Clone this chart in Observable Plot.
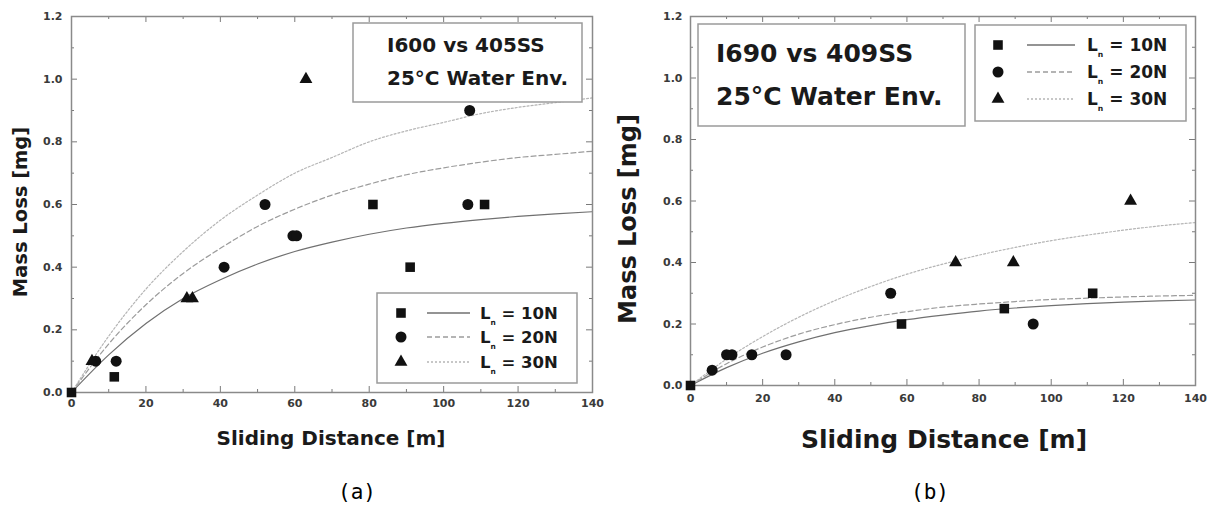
<!DOCTYPE html>
<html><head><meta charset="utf-8">
<script src="https://cdn.jsdelivr.net/npm/d3@7"></script>
<script src="https://cdn.jsdelivr.net/npm/@observablehq/plot@0.6"></script>
<style>
body{margin:0;background:#fff;}
#wrap{position:relative;width:1219px;height:510px;overflow:hidden;font-family:"DejaVu Sans",sans-serif;background:#fff;}
#pa{position:absolute;left:0;top:0;}
#pb{position:absolute;left:610px;top:0;}
#ov{position:absolute;left:0;top:0;}
</style></head><body>
<div id="wrap"><div id="pa"></div><div id="pb"></div><svg id="ov" width="1219" height="510"></svg></div>
<script>
// ---- ticks ----
const xTicks = [0, 20, 40, 60, 80, 100, 120, 140];
const xMinor = [10, 30, 50, 70, 90, 110, 130];
const yTicks = [0, 0.2, 0.4, 0.6, 0.8, 1.0, 1.2];
const yMinor = [0.1, 0.3, 0.5, 0.7, 0.9, 1.1];
const loads = ["Lₙ = 10N", "Lₙ = 20N", "Lₙ = 30N"];

// ---- panel (a): I600 vs 405SS ----
const aSquareX = [0, 11.5, 81, 91, 111];
const aSquareY = [0, 0.05, 0.6, 0.4, 0.6];
const aCircleX = [6.5, 12, 41, 52, 59.5, 60.5, 106.5, 107];
const aCircleY = [0.1, 0.1, 0.4, 0.6, 0.5, 0.5, 0.6, 0.9];
const aTriX = [5.5, 31, 32.5, 63];
const aTriY = [0.1, 0.3, 0.3, 1.0];
const fitX = [0, 10, 20, 30, 40, 50, 60, 70, 80, 90, 100, 110, 120, 130, 140];
const aFit10 = [0, 0.12, 0.22, 0.30, 0.36, 0.41, 0.45, 0.48, 0.505, 0.525, 0.54, 0.552, 0.562, 0.57, 0.577];
const aFit20 = [0, 0.155, 0.28, 0.38, 0.46, 0.53, 0.585, 0.63, 0.665, 0.695, 0.717, 0.735, 0.75, 0.76, 0.77];
const aFit30 = [0, 0.18, 0.33, 0.45, 0.55, 0.63, 0.70, 0.75, 0.80, 0.835, 0.862, 0.89, 0.91, 0.925, 0.94];

// ---- panel (b): I690 vs 409SS ----
const bSquareX = [0, 58.5, 87, 111.5];
const bSquareY = [0, 0.2, 0.25, 0.3];
const bCircleX = [6, 10, 11.5, 17, 26.5, 55.5, 95];
const bCircleY = [0.05, 0.1, 0.1, 0.1, 0.1, 0.3, 0.2];
const bTriX = [73.5, 89.5, 122];
const bTriY = [0.4, 0.4, 0.6];
const bFit10 = [0, 0.058, 0.105, 0.142, 0.172, 0.195, 0.214, 0.229, 0.242, 0.252, 0.26, 0.266, 0.271, 0.275, 0.278];
const bFit20 = [0, 0.071, 0.125, 0.167, 0.198, 0.222, 0.24, 0.255, 0.265, 0.273, 0.28, 0.284, 0.288, 0.291, 0.293];
const bFit30 = [0, 0.086, 0.159, 0.222, 0.276, 0.322, 0.362, 0.395, 0.424, 0.449, 0.471, 0.489, 0.505, 0.519, 0.53];

const lineStyle = [
  {stroke: "#707070", dash: null},
  {stroke: "#9c9c9c", dash: "5,3"},
  {stroke: "#b5b5b5", dash: "2,2"}
];
const pts = (xs, ys) => xs.map((x, i) => ({x, y: ys[i]}));

function panel(o) {
  const pw = o.width - o.ml - o.mr, ph = o.height - o.mt - o.mb;
  const tk = {stroke: "#7a7a7a", strokeWidth: 1};
  const tickMarks = [
    Plot.tickX(xTicks, {x: d => d, insetTop: ph - 6, ...tk}),
    Plot.tickX(xMinor, {x: d => d, insetTop: ph - 3, ...tk}),
    Plot.tickX(xTicks, {x: d => d, insetBottom: ph - 6, ...tk}),
    Plot.tickX(xMinor, {x: d => d, insetBottom: ph - 3, ...tk}),
    Plot.tickY(yTicks, {y: d => d, insetRight: pw - 6, ...tk}),
    Plot.tickY(yMinor, {y: d => d, insetRight: pw - 3, ...tk}),
    Plot.tickY(yTicks, {y: d => d, insetLeft: pw - 6, ...tk}),
    Plot.tickY(yMinor, {y: d => d, insetLeft: pw - 3, ...tk})
  ];
  return Plot.plot({
    width: o.width, height: o.height,
    marginLeft: o.ml, marginRight: o.mr, marginTop: o.mt, marginBottom: o.mb,
    x: {domain: [0, 140]}, y: {domain: [0, 1.2]},
    style: {fontFamily: "DejaVu Sans", fontWeight: "bold", fontSize: "11px", color: "#3a3a3a", background: "transparent"},
    marks: [
      ...o.fits.map((ys, i) => Plot.line(pts(fitX, ys), {x: "x", y: "y", curve: "monotone-x", stroke: lineStyle[i].stroke, strokeWidth: 1.2, strokeDasharray: lineStyle[i].dash})),
      ...tickMarks,
      Plot.frame({stroke: "#8a8a8a", strokeWidth: 1.5}),
      Plot.axisX({anchor: "bottom", ticks: xTicks, tickSize: 0, tickPadding: o.xpad, label: null}),
      Plot.axisY({anchor: "left", ticks: yTicks, tickSize: 0, tickPadding: o.ypad, tickFormat: d => d.toFixed(1), label: null}),
      Plot.dot(pts(o.sq[0], o.sq[1]), {x: "x", y: "y", symbol: "square", r: 5.4, fill: "#111", stroke: "none"}),
      Plot.dot(pts(o.ci[0], o.ci[1]), {x: "x", y: "y", symbol: "circle", r: 5.5, fill: "#111", stroke: "none"}),
      Plot.dot(pts(o.tr[0], o.tr[1]), {x: "x", y: "y", symbol: "triangle", r: 4.8, fill: "#111", stroke: "none"})
    ]
  });
}

document.getElementById("pa").append(panel({
  width: 608, height: 420, ml: 71, mr: 16, mt: 16, mb: 28, xpad: 7, ypad: 9,
  sq: [aSquareX, aSquareY], ci: [aCircleX, aCircleY], tr: [aTriX, aTriY],
  fits: [aFit10, aFit20, aFit30]
}));
document.getElementById("pb").append(panel({
  width: 609, height: 410, ml: 80, mr: 24, mt: 16, mb: 25, xpad: 9, ypad: 8,
  sq: [bSquareX, bSquareY], ci: [bCircleX, bCircleY], tr: [bTriX, bTriY],
  fits: [bFit10, bFit20, bFit30]
}));

// ---- overlay: titles, annotation boxes, legends, captions ----
const ov = d3.select("#ov");
const F = "DejaVu Sans";
function text(x, y, s, size, opts = {}) {
  const t = ov.append("text").attr("x", x).attr("y", y).attr("font-family", opts.family || F)
    .attr("font-size", size).attr("font-weight", opts.weight || "bold").attr("fill", opts.fill || "#1a1a1a")
    .attr("text-anchor", opts.anchor || "middle").attr("dominant-baseline", "central").text(s);
  if (opts.rotate) t.attr("transform", `rotate(-90 ${x} ${y})`);
  return t;
}
// axis titles
text(20, 212, "Mass Loss [mg]", 19.5, {rotate: true});
text(331, 438, "Sliding Distance [m]", 20);
text(628, 219, "Mass Loss [mg]", 24, {rotate: true});
text(944, 439, "Sliding Distance [m]", 25);
// captions
text(357, 492, "(a)", 21, {family: "DejaVu Sans Mono", weight: "normal", fill: "#000"});
text(930, 492, "(b)", 21, {family: "DejaVu Sans Mono", weight: "normal", fill: "#000"});

// annotation boxes
function box(x, y, w, h) {
  ov.append("rect").attr("x", x).attr("y", y).attr("width", w).attr("height", h)
    .attr("fill", "#fff").attr("stroke", "#9a9a9a").attr("stroke-width", 1.5);
}
box(353, 23, 229, 79);
text(387, 45, "I600 vs 405SS", 20, {anchor: "start"});
text(387, 78, "25°C Water Env.", 20, {anchor: "start"});
box(698, 24, 267, 102);
text(716, 53, "I690 vs 409SS", 25, {anchor: "start"});
text(716, 96, "25°C Water Env.", 25, {anchor: "start"});

// legends
const syms = [d3.symbolSquare, d3.symbolCircle, d3.symbolTriangle];
const symR = [5.4, 5.5, 4.8];
function legend(bx, by, bw, bh, rows, mx, l1, l2, tx, fs) {
  box(bx, by, bw, bh);
  rows.forEach((ry, i) => {
    ov.append("path").attr("transform", `translate(${mx},${ry})`)
      .attr("d", d3.symbol(syms[i], Math.PI * symR[i] * symR[i])()).attr("fill", "#111");
    ov.append("line").attr("x1", l1).attr("x2", l2).attr("y1", ry).attr("y2", ry)
      .attr("stroke", lineStyle[i].stroke).attr("stroke-width", 1.3)
      .attr("stroke-dasharray", lineStyle[i].dash);
    const t = ov.append("text").attr("x", tx).attr("y", ry).attr("font-family", F).attr("font-size", fs)
      .attr("font-weight", "bold").attr("fill", "#1a1a1a").attr("dominant-baseline", "central");
    const [L, rest] = [loads[i].slice(0, 1), loads[i].slice(2)];
    t.append("tspan").text(L);
    t.append("tspan").attr("font-size", fs * 0.45).attr("dy", fs * 0.55).text("n");
    t.append("tspan").attr("dy", -fs * 0.55).text(rest);
  });
}
legend(377, 293, 200, 90, [313, 337, 362], 401, 427, 470, 480, 16.5);
legend(975, 25, 211, 96, [45, 72, 99], 998, 1027, 1075, 1087, 17);
</script>
</body></html>
